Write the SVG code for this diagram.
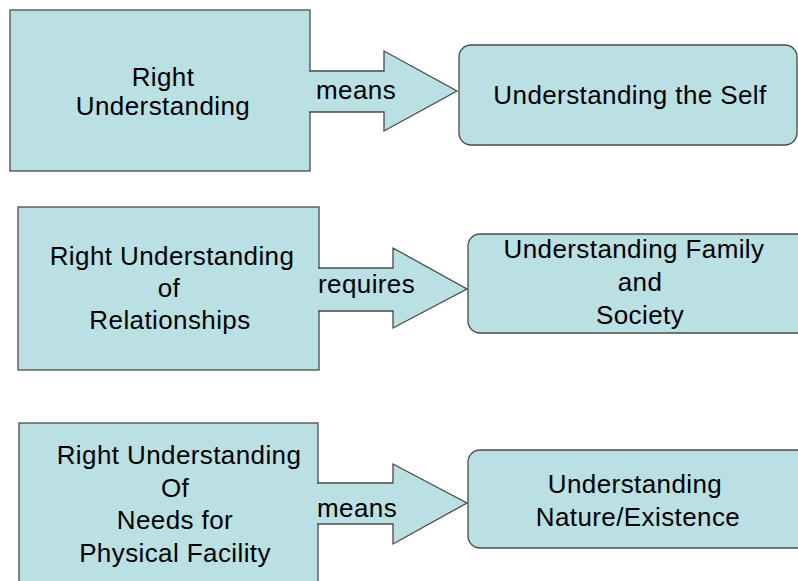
<svg xmlns="http://www.w3.org/2000/svg" width="798" height="581" viewBox="0 0 798 581">
<style>
.box{fill:#BAE0E3;stroke:#4a4a4a;stroke-width:1.3}
.arr{fill:#BAE0E3;stroke:#4a4a4a;stroke-width:1.3;stroke-linejoin:miter}
text{font-family:"Liberation Sans",Arial,sans-serif;font-size:26px;letter-spacing:0.4px;fill:#000;text-anchor:middle}
.lbl{text-anchor:start}
</style>
<rect width="798" height="581" fill="#ffffff"/>
<g id="node-right-understanding">
<rect class="box" x="10" y="10" width="300" height="161"/>
<text x="163" y="86">Right</text>
<text x="163" y="115">Understanding</text>
</g>
<g id="node-understanding-self">
<rect class="box" x="459" y="45" width="338" height="100" rx="12" ry="12"/>
<text x="630" y="104">Understanding the Self</text>
</g>
<g id="node-right-understanding-relationships">
<rect class="box" x="18" y="207" width="301" height="163"/>
<text x="172" y="265">Right Understanding</text>
<text x="169" y="297">of</text>
<text x="170" y="329">Relationships</text>
</g>
<g id="node-understanding-family">
<rect class="box" x="468" y="234" width="350" height="99" rx="12" ry="12"/>
<text x="634" y="258">Understanding Family</text>
<text x="640" y="291">and</text>
<text x="640" y="324">Society</text>
</g>
<g id="node-right-understanding-needs">
<rect class="box" x="19" y="423" width="299" height="180"/>
<text x="179" y="464">Right Understanding</text>
<text x="175" y="497">Of</text>
<text x="175" y="529">Needs for</text>
<text x="175" y="562">Physical Facility</text>
</g>
<g id="node-understanding-nature">
<rect class="box" x="468" y="450" width="350" height="98" rx="12" ry="12"/>
<text x="635" y="493">Understanding</text>
<text x="638" y="526">Nature/Existence</text>
</g>
<g id="connectors">
<path class="arr" d="M309,71 H384 V51 L457,91 L384,131 V112 H309"/>
<text class="lbl" x="316" y="99">means</text>
<path class="arr" d="M318,268 H393 V248 L467,289 L393,328 V311 H318"/>
<text class="lbl" x="318" y="293">requires</text>
<path class="arr" d="M317,483 H393 V464 L467,503 L393,544 V524 H317"/>
<text class="lbl" x="317" y="517">means</text>
</g>
</svg>
